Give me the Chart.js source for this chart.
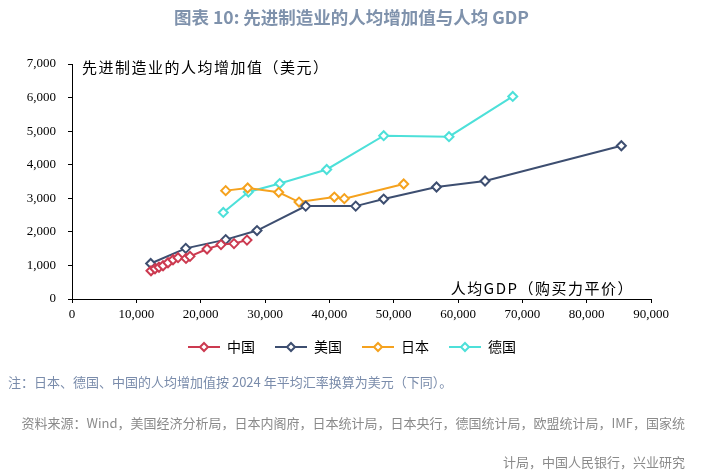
<!DOCTYPE html>
<html>
<head>
<meta charset="utf-8">
<script src="https://cdn.jsdelivr.net/npm/chart.js@4.4.1/dist/chart.umd.min.js"></script>
<style>
  body { margin: 0; background: #fff; width: 703px; height: 473px; overflow: hidden; position: relative; font-family: "Noto Sans CJK SC", sans-serif; }
  #wrap { position: absolute; left: 0; top: 0; width: 703px; height: 473px; }
  .title { position: absolute; left: 0; width: 703px; top: 4px; text-align: center; font-size: 17.5px; font-weight: bold; color: #7f92ac; }
  .note { position: absolute; left: 8px; top: 372px; font-size: 13px; color: #7a8cab; }
  .src { position: absolute; right: 18px; font-size: 13px; color: #8a8a8a; text-align: right; }
</style>
</head>
<body>
<div id="wrap"><canvas id="myChart" width="703" height="473"></canvas></div>
<div class="title">图表 10: 先进制造业的人均增加值与人均 GDP</div>
<div class="note">注：日本、德国、中国的人均增加值按 2024 年平均汇率换算为美元（下同）。</div>
<div class="src" style="top:413px">资料来源：Wind，美国经济分析局，日本内阁府，日本统计局，日本央行，德国统计局，欧盟统计局，IMF，国家统</div>
<div class="src" style="top:452px">计局，中国人民银行，兴业研究</div>
<script>
// per capita GDP (PPP) and per capita value added of advanced manufacturing (USD)
let chinaGdp = [12280, 12900, 13520, 14150, 14920, 15700, 16480, 17720, 18340, 20990, 23160, 25180, 27200];
let chinaValue = [840, 900, 945, 990, 1080, 1170, 1230, 1210, 1270, 1490, 1620, 1650, 1755];
let usaGdp = [12230, 17680, 23890, 28760, 36330, 44100, 48450, 56660, 64200, 85390];
let usaValue = [1058, 1508, 1769, 2038, 2767, 2767, 2977, 3336, 3516, 4565];
let japanGdp = [23890, 27310, 32130, 35290, 40780, 42330, 51560];
let japanValue = [3228, 3307, 3178, 2887, 3037, 2989, 3426];
let germanyGdp = [23520, 27410, 32290, 39590, 48450, 58600, 68510];
let germanyValue = [2578, 3187, 3438, 3858, 4865, 4835, 6034];
let seriesNames = ["中国", "美国", "日本", "德国"];
let seriesColors = ["#cc3a50", "#3d4e70", "#f5a21e", "#4de0d9"];

function toPoints(xs, ys) {
  return xs.map((v, i) => ({ x: v, y: ys[i] }));
}

// legend symbol: short line with a hollow diamond (blank space on the left)
function legendIcon(color) {
  let c = document.createElement("canvas");
  c.width = 41; c.height = 12;
  let g = c.getContext("2d");
  g.strokeStyle = color; g.lineWidth = 2;
  g.beginPath(); g.moveTo(9, 6); g.lineTo(41, 6); g.stroke();
  g.fillStyle = "#fff";
  g.beginPath(); g.moveTo(25, 2); g.lineTo(29, 6); g.lineTo(25, 10); g.lineTo(21, 6); g.closePath();
  g.fill(); g.stroke();
  return c;
}

let allData = [
  toPoints(chinaGdp, chinaValue),
  toPoints(usaGdp, usaValue),
  toPoints(japanGdp, japanValue),
  toPoints(germanyGdp, germanyValue)
];

let datasets = allData.map((d, i) => ({
  label: seriesNames[i],
  data: d,
  borderColor: seriesColors[i],
  backgroundColor: "#fff",
  borderWidth: 2,
  pointStyle: "rectRot",
  pointRadius: 4.5,
  pointBorderWidth: 2,
  pointBackgroundColor: "#fff",
  pointBorderColor: seriesColors[i],
  showLine: true,
  tension: 0
}));

let axisTitles = {
  id: "axisTitles",
  afterLayout(chart) {
    // move legend a little to the right, like the original
    chart.legend.left += 17;
    chart.legend.right += 17;
  },
  afterDraw(chart) {
    let ctx = chart.ctx;
    let area = chart.chartArea;
    ctx.save();
    ctx.fillStyle = "#000";
    ctx.font = "15px 'Noto Sans CJK SC'";
    ctx.letterSpacing = "1.5px";
    ctx.textBaseline = "middle";
    ctx.textAlign = "left";
    ctx.fillText("先进制造业的人均增加值（美元）", area.left + 10, area.top + 3);
    ctx.textAlign = "right";
    ctx.fillText("人均GDP（购买力平价）", area.right - 17, area.bottom - 11);
    ctx.letterSpacing = "0px";
    ctx.restore();
  }
};

let tickFont = { family: "'Liberation Serif', serif", size: 13 };

var ctx = document.getElementById("myChart").getContext("2d");
var myChart = new Chart(ctx, {
  type: "scatter",
  data: { datasets: datasets },
  plugins: [axisTitles],
  options: {
    responsive: false,
    animation: false,
    layout: { padding: { left: 10, right: 52, top: 64, bottom: 109 } },
    plugins: {
      tooltip: { enabled: false },
      legend: {
        position: "bottom",
        labels: {
          usePointStyle: true,
          pointStyleWidth: 41,
          padding: 11,
          color: "#000",
          font: { family: "'Noto Sans CJK SC'", size: 14 },
          generateLabels(chart) {
            return chart.data.datasets.map((ds, i) => ({
              text: ds.label,
              pointStyle: legendIcon(seriesColors[i]),
              fillStyle: "#fff",
              strokeStyle: seriesColors[i],
              lineWidth: 0,
              hidden: false,
              datasetIndex: i
            }));
          }
        }
      }
    },
    scales: {
      x: {
        type: "linear",
        min: 0,
        max: 90000,
        afterFit(s) { s.height = 30; },
        ticks: {
          stepSize: 10000,
          color: "#000",
          font: tickFont,
          padding: 4,
          maxRotation: 0,
          callback: (v) => v.toLocaleString("en-US")
        },
        grid: { drawOnChartArea: false, tickLength: 4, color: "#000" },
        border: { color: "#000", width: 1 }
      },
      y: {
        min: 0,
        max: 7000,
        afterFit(s) { s.width = 62; },
        ticks: {
          stepSize: 1000,
          color: "#000",
          font: tickFont,
          padding: 12,
          callback: (v) => v.toLocaleString("en-US")
        },
        grid: { drawOnChartArea: false, tickLength: 4, color: "#000" },
        border: { color: "#000", width: 1 }
      }
    }
  }
});
</script>
</body>
</html>
